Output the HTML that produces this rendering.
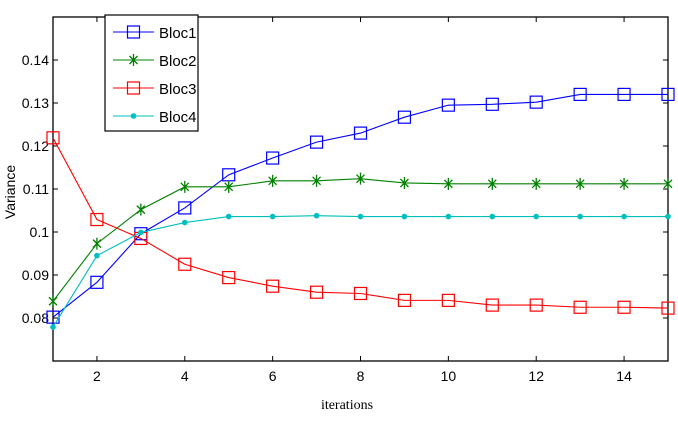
<!DOCTYPE html>
<html><head><meta charset="utf-8"><style>
body{margin:0;background:#fff}
text{font-family:"Liberation Sans",sans-serif}
</style></head><body>
<svg id="chart" width="678" height="416" xmlns="http://www.w3.org/2000/svg">
<rect x="0" y="0" width="678" height="416" fill="#fff"/>
<g id="axes"></g>
<g id="series"></g>
<g id="legend"></g>
<text x="0" y="0" transform="translate(15,192) rotate(-90)" text-anchor="middle" font-size="14">Variance</text>
<text x="347" y="409" text-anchor="middle" font-size="14" style="font-family:'Liberation Serif',serif">iterations</text>
</svg>
<script>
const xTicks=[2,4,6,8,10,12,14];
const yTicks=[0.08,0.09,0.1,0.11,0.12,0.13,0.14];
const yTickLabels=["0.08","0.09","0.1","0.11","0.12","0.13","0.14"];
const iterations=[1,2,3,4,5,6,7,8,9,10,11,12,13,14,15];
const bloc1=[0.0802,0.0883,0.0996,0.1056,0.1133,0.1172,0.1209,0.1230,0.1267,0.1295,0.1297,0.1302,0.1320,0.1320,0.1320];
const bloc2=[0.0839,0.0973,0.1052,0.1105,0.1105,0.1119,0.1119,0.1124,0.1114,0.1112,0.1112,0.1112,0.1112,0.1112,0.1112];
const bloc3=[0.1219,0.1029,0.0985,0.0925,0.0894,0.0874,0.0860,0.0857,0.0841,0.0841,0.0830,0.0830,0.0825,0.0825,0.0823];
const bloc4=[0.0779,0.0945,0.0999,0.1022,0.1036,0.1036,0.1038,0.1036,0.1036,0.1036,0.1036,0.1036,0.1036,0.1036,0.1036];
const seriesNames=["Bloc1","Bloc2","Bloc3","Bloc4"];

const NS="http://www.w3.org/2000/svg";
const L=53,R=668,T=17,B=361;
const xs=v=>L+(v-1)*(R-L)/14;
const ys=v=>B-(v-0.07)*(B-T)/0.08;
function mk(tag,attrs,parent){const e=document.createElementNS(NS,tag);for(const k in attrs)e.setAttribute(k,attrs[k]);parent.appendChild(e);return e;}
const axes=document.getElementById('axes');
const frame=mk('rect',{x:L,y:T,width:R-L,height:B-T,fill:'none',stroke:'#000','stroke-width':1.3},axes);


xTicks.forEach(t=>{
  const x=xs(t);
  const a=mk('line',{x1:x,y1:B,x2:x,y2:B-5,stroke:'#000'},axes);
  
  
  mk('line',{x1:x,y1:T,x2:x,y2:T+5,stroke:'#000'},axes);
  const tx=mk('text',{x:x,y:B+20,'text-anchor':'middle','font-size':14},axes);
  tx.textContent=t;
  
  
});
yTicks.forEach((t,i)=>{
  const y=ys(t);
  const a=mk('line',{x1:L,y1:y,x2:L+5,y2:y,stroke:'#000'},axes);
  
  
  mk('line',{x1:R,y1:y,x2:R-5,y2:y,stroke:'#000'},axes);
  const tx=mk('text',{x:L-4,y:y+5,'text-anchor':'end','font-size':14},axes);
  tx.textContent=yTickLabels[i];
  
  
});
const colors=["#0000ff","#008000","#ff0000","#00bfbf"];
const markers=["square","star","square","dot"];
function marker(g,type,x,y,c){
  if(type==='square'){mk('rect',{x:x-6,y:y-6,width:12,height:12,fill:'none',stroke:c,'stroke-width':1.2},g);}
  else if(type==='star'){mk('path',{d:`M${x} ${y-6}V${y+6}M${x-4} ${y-4}L${x+4} ${y+4}M${x+4} ${y-4}L${x-4} ${y+4}`,stroke:c,'stroke-width':1.3},g);}
  else {mk('circle',{cx:x,cy:y,r:2.8,fill:c},g);}
}
const sg=document.getElementById('series');
[bloc1,bloc2,bloc3,bloc4].forEach((d,si)=>{
  const g=mk('g',{},sg);
  
  
  mk('polyline',{points:d.map((v,i)=>xs(iterations[i])+','+ys(v)).join(' '),fill:'none',stroke:colors[si],'stroke-width':1.1},g);
  d.forEach((v,i)=>marker(g,markers[si],xs(iterations[i]),ys(v),colors[si]));
});
const lg=document.getElementById('legend');
const box=mk('rect',{x:105,y:15,width:93,height:116,fill:'#fff',stroke:'#000','stroke-width':1.2},lg);


seriesNames.forEach((n,i)=>{
  const y=32+i*28;
  const g=mk('g',{},lg);
  
  
  mk('line',{x1:113,y1:y,x2:154,y2:y,stroke:colors[i],'stroke-width':1.1},g);
  marker(g,markers[i],133.5,y,colors[i]);
  const t=mk('text',{x:159,y:y+6,'font-size':15},g);
  t.textContent=n;
});
</script>
</body></html>
